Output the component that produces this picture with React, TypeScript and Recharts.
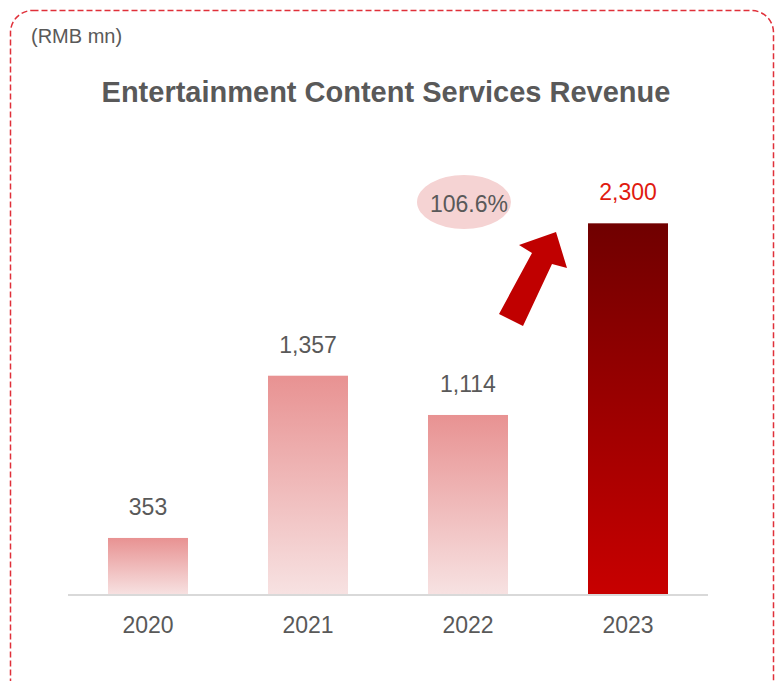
import { Bar, BarChart, LabelList, XAxis, YAxis } from 'recharts';

const years = ['2020', '2021', '2022', '2023'];
const revenue = [353, 1357, 1114, 2300];
const growthLabel = '106.6%';

const data = years.map((year, i) => ({ year, revenue: revenue[i] }));

const FONT = "'Liberation Sans', Arial, sans-serif";
const GRAY = '#595959';

function ValueLabel(props: any) {
  const { x, y, width, value, index } = props;
  const last = index === revenue.length - 1;
  return (
    <text
      x={Number(x) + Number(width) / 2}
      y={Number(y) - 23}
      textAnchor="middle"
      fontSize={23}
      fontFamily={FONT}
      fill={last ? '#e01a10' : GRAY}
    >
      {Number(value).toLocaleString('en-US')}
    </text>
  );
}

// each bar carries its own vertical gradient
function BarShape(props: any) {
  const { x, y, width, height, index } = props;
  const last = index === revenue.length - 1;
  const id = `barGrad${index}`;
  const top = last ? '#700000' : '#e89292';
  const bottom = last ? '#c80000' : '#f7e2e2';
  return (
    <g>
      <defs>
        <linearGradient id={id} x1="0" y1="0" x2="0" y2="1">
          <stop offset="0%" stopColor={top} />
          <stop offset="100%" stopColor={bottom} />
        </linearGradient>
      </defs>
      <rect x={x} y={y} width={width} height={height} fill={`url(#${id})`} />
    </g>
  );
}

export default function App() {
  return (
    <div style={{ position: 'absolute', left: 0, top: 0, width: 775, height: 681, overflow: 'hidden', background: '#fff' }}>
      <svg width={775} height={681} style={{ position: 'absolute', left: 0, top: 0 }}>
        <rect
          x={10.5}
          y={10.5}
          width={763}
          height={720}
          rx={22}
          fill="none"
          stroke="#e0303a"
          strokeWidth={1.5}
          strokeDasharray="6 3"
        />
        <text x={31} y={43} fontSize={20} fontFamily={FONT} fill={GRAY}>
          (RMB mn)
        </text>
        <text x={386} y={102} textAnchor="middle" fontSize={29} fontWeight="bold" fontFamily={FONT} fill={GRAY}>
          Entertainment Content Services Revenue
        </text>
      </svg>

      <div style={{ position: 'absolute', left: 0, top: 0 }}>
        <BarChart
          width={775}
          height={681}
          data={data}
          margin={{ top: 191, right: 67, bottom: 46, left: 68 }}
          barCategoryGap="25%"
        >
          <XAxis
            dataKey="year"
            height={40}
            tickLine={false}
            tickSize={0}
            tickMargin={22}
            axisLine={{ stroke: '#d9d9d9', strokeWidth: 2 }}
            tick={{ fontSize: 23, fill: GRAY, fontFamily: FONT }}
          />
          <YAxis width={0} domain={[0, 2500]} tick={false} axisLine={false} tickLine={false} />
          <Bar dataKey="revenue" isAnimationActive={false} fill="#e89292" shape={BarShape}>
            <LabelList dataKey="revenue" content={ValueLabel} />
          </Bar>
        </BarChart>
      </div>

      {/* growth annotation */}
      <svg width={775} height={681} style={{ position: 'absolute', left: 0, top: 0, pointerEvents: 'none' }}>
        <ellipse cx={464} cy={202} rx={47} ry={27} fill="#f5d3d3" />
        <text x={469} y={212} textAnchor="middle" fontSize={23} fontFamily={FONT} fill={GRAY}>
          {growthLabel}
        </text>
        <polygon
          points="499,314 523,326 552,264 567,268 556,232 519,245 532,253"
          fill="#c00000"
        />
      </svg>
    </div>
  );
}
